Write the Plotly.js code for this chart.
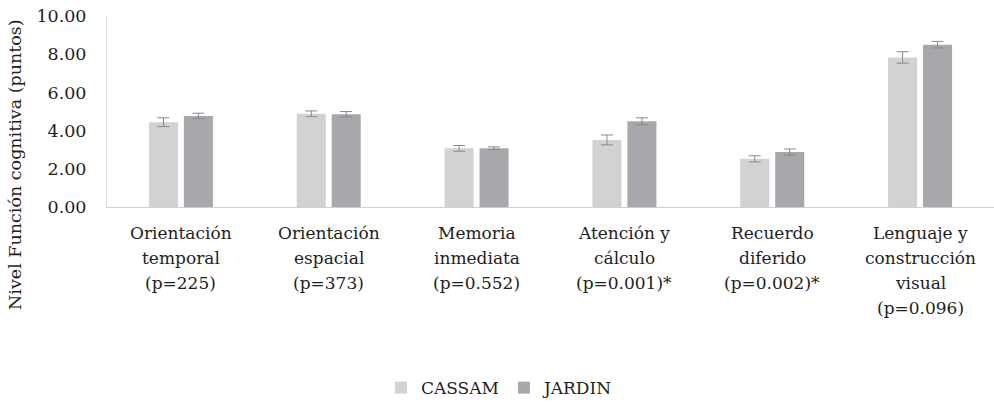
<!DOCTYPE html>
<html>
<head>
<meta charset="utf-8">
<script src="https://cdn.plot.ly/plotly-3.0.1.min.js"></script>
<style>html,body{margin:0;padding:0;background:#fff;}#chart{width:994px;height:403px;}</style>
</head>
<body>
<div id="chart"></div>
<script>
const categories = [
  "Orientación<br>temporal<br>(p=225)",
  "Orientación<br>espacial<br>(p=373)",
  "Memoria<br>inmediata<br>(p=0.552)",
  "Atención y<br>cálculo<br>(p=0.001)*",
  "Recuerdo<br>diferido<br>(p=0.002)*",
  "Lenguaje y<br>construcción<br>visual<br>(p=0.096)"
];
const cassamValues = [4.44, 4.88, 3.07, 3.51, 2.52, 7.83];
const cassamErrors = [0.23, 0.15, 0.15, 0.26, 0.16, 0.30];
const jardinValues = [4.77, 4.86, 3.08, 4.49, 2.88, 8.50];
const jardinErrors = [0.14, 0.14, 0.07, 0.18, 0.16, 0.17];
const seriesNames = ["CASSAM", "JARDIN"];
const yTitle = "Nivel Función cognitiva (puntos)";

const FONT = "DejaVu Serif, serif";
const TXT = "#1e1e1e";
const errStyle = {type: "data", visible: true, color: "#8a8a8a", thickness: 1, width: 6};

const traces = [
  {type: "bar", name: seriesNames[0], x: categories, y: cassamValues,
   marker: {color: "#d1d2d4"},
   error_y: Object.assign({array: cassamErrors}, errStyle)},
  {type: "bar", name: seriesNames[1], x: categories, y: jardinValues,
   marker: {color: "#a7a8ab"},
   error_y: Object.assign({array: jardinErrors}, errStyle)}
];

// category labels drawn line by line (25px line spacing like the reference)
const labelAnnotations = [];
categories.forEach(function (cat) {
  cat.split("<br>").forEach(function (line, i) {
    labelAnnotations.push({text: line, xref: "x", yref: "paper", x: cat, y: 0,
      xanchor: "center", yanchor: "middle", yshift: -(25.5 + 25 * i), showarrow: false,
      font: {family: FONT, size: 17, color: TXT}});
  });
});

const layout = {
  width: 994, height: 403,
  margin: {l: 107, r: 0, t: 16, b: 196},
  paper_bgcolor: "#ffffff", plot_bgcolor: "#ffffff",
  font: {family: FONT, size: 17, color: TXT},
  barmode: "group", bargap: 0.527, bargroupgap: 0.17,
  showlegend: true,
  legend: {orientation: "h", xref: "container", yref: "container", x: 0.503, xanchor: "center",
           y: 0.037, yanchor: "middle", font: {family: FONT, size: 17, color: TXT},
           itemwidth: 30, traceorder: "normal"},
  xaxis: {type: "category", showline: true, linecolor: "#d0d0d0", linewidth: 1,
          ticks: "", showticklabels: false,
          showgrid: false, zeroline: false, fixedrange: true},
  yaxis: {range: [0, 10], dtick: 2, tickformat: ".2f", showline: true, linecolor: "#e0e0e0",
          linewidth: 1, showgrid: false, zeroline: false, ticks: "", ticklabelstandoff: 16,
          tickfont: {family: FONT, size: 17.5, color: TXT}, fixedrange: true},
  annotations: [{text: yTitle, textangle: -90, xref: "paper", yref: "paper",
                 x: -0.104, y: 0.224, xanchor: "center", yanchor: "middle", showarrow: false,
                 font: {family: FONT, size: 17.5, color: TXT}}].concat(labelAnnotations)
};

Plotly.newPlot("chart", traces, layout, {displayModeBar: false, staticPlot: true});
</script>
</body>
</html>
